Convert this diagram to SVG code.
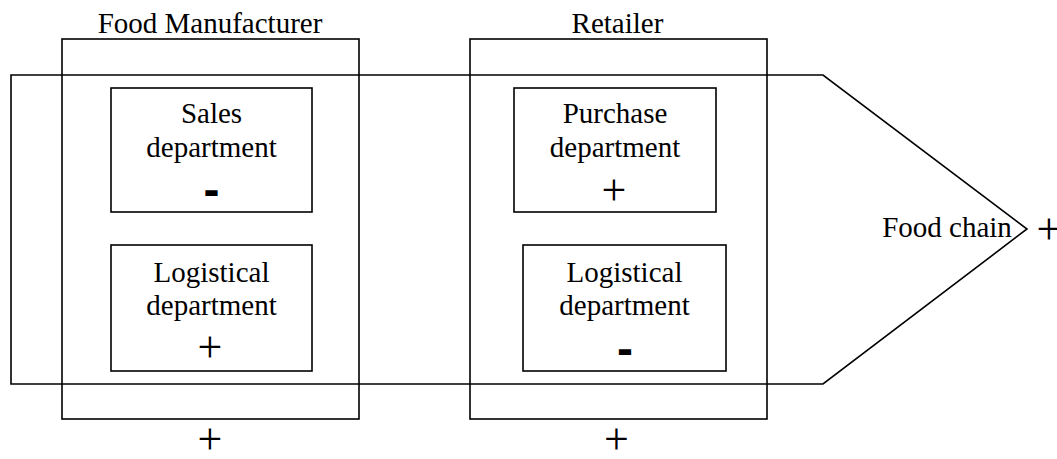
<svg xmlns="http://www.w3.org/2000/svg" width="1057" height="459" viewBox="0 0 1057 459">
  <style>
    .box { fill: none; stroke: #000; stroke-width: 1.6; }
    .lbl { font-family: "Liberation Serif", "Times New Roman", serif; font-size: 29px; fill: #000; text-anchor: middle; }
    .plus { font-family: "Liberation Serif", "Times New Roman", serif; font-size: 44px; fill: #000; text-anchor: middle; }
    .minus { font-family: "Liberation Sans", Arial, sans-serif; font-weight: bold; font-size: 48px; fill: #000; text-anchor: middle; }
  </style>
  <rect width="1057" height="459" fill="#fff"/>

  <!-- Food chain arrow -->
  <g id="food-chain">
    <polygon class="box" points="11,75 823,75 1027,229 823,384 11,384"/>
    <text class="lbl" x="947" y="237">Food chain</text>
    <text class="plus" x="1049" y="244">+</text>
  </g>

  <!-- Food manufacturer -->
  <g id="manufacturer">
    <rect class="box" x="62" y="39" width="297" height="380"/>
    <text class="lbl" x="210" y="33">Food Manufacturer</text>
    <text class="plus" x="210" y="454">+</text>
  </g>
  <g id="sales-dept">
    <rect class="box" x="111" y="88" width="201" height="124"/>
    <text class="lbl" x="211.5" y="123">Sales</text>
    <text class="lbl" x="211.5" y="157">department</text>
    <text class="minus" x="211.5" y="206">-</text>
  </g>
  <g id="manufacturer-logistics">
    <rect class="box" x="111" y="245" width="201" height="126"/>
    <text class="lbl" x="211.5" y="282">Logistical</text>
    <text class="lbl" x="211.5" y="315">department</text>
    <text class="plus" x="210" y="362">+</text>
  </g>

  <!-- Retailer -->
  <g id="retailer">
    <rect class="box" x="470" y="39" width="297" height="380"/>
    <text class="lbl" x="617.5" y="33">Retailer</text>
    <text class="plus" x="616.5" y="454">+</text>
  </g>
  <g id="purchase-dept">
    <rect class="box" x="514" y="88" width="202" height="124"/>
    <text class="lbl" x="615" y="123">Purchase</text>
    <text class="lbl" x="615" y="157">department</text>
    <text class="plus" x="614" y="205">+</text>
  </g>
  <g id="retailer-logistics">
    <rect class="box" x="523" y="245" width="203" height="126"/>
    <text class="lbl" x="624.5" y="282">Logistical</text>
    <text class="lbl" x="624.5" y="315">department</text>
    <text class="minus" x="625" y="365">-</text>
  </g>
</svg>
